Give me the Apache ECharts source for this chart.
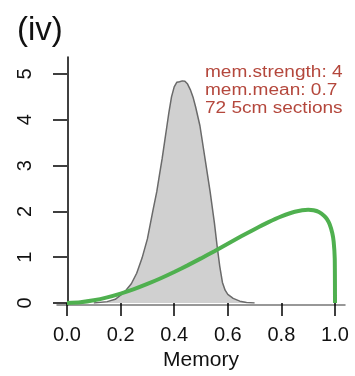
<!DOCTYPE html>
<html><head><meta charset="utf-8">
<script src="https://cdn.jsdelivr.net/npm/echarts@6/dist/echarts.min.js"></script>
<style>html,body{margin:0;padding:0;background:#fff}#c{width:355px;height:376px}</style>
</head><body><div id="c"></div>
<script>
// Gray empirical density: x positions and heights
const densX = [0.10,0.15,0.18,0.20,0.22,0.24,0.26,0.28,0.30,0.31,0.32,0.335,0.345,0.355,0.365,0.373,0.38,0.39,0.40,0.41,0.415,0.42,0.425,0.43,0.44,0.45,0.46,0.47,0.48,0.496,0.515,0.534,0.55,0.56,0.57,0.58,0.59,0.60,0.62,0.645,0.67,0.70];
const densY = [0.0,0.03,0.08,0.17,0.28,0.42,0.65,0.98,1.40,1.70,2.00,2.43,2.80,3.15,3.55,3.87,4.15,4.50,4.72,4.82,4.82,4.83,4.86,4.85,4.84,4.78,4.66,4.50,4.28,3.87,3.15,2.43,1.75,1.25,0.80,0.45,0.28,0.19,0.10,0.04,0.01,0.0];
// Green prior curve
const priorX = [0,0.05,0.10,0.15,0.20,0.25,0.30,0.35,0.40,0.45,0.50,0.55,0.60,0.65,0.70,0.75,0.80,0.85,0.90,0.92,0.94,0.96,0.97,0.98,0.99,0.995,0.999,1.0];
const priorY = [0,0.018,0.060,0.124,0.206,0.303,0.416,0.540,0.676,0.822,0.974,1.132,1.294,1.455,1.612,1.760,1.890,1.991,2.034,2.024,1.986,1.902,1.830,1.719,1.524,1.339,0.977,0];
const xTicks = [0,0.2,0.4,0.6,0.8,1.0];
const yTicks = [0,1,2,3,4,5];
const panelLabel = '(iv)';
const noteLines = ['mem.strength: 4','mem.mean: 0.7','72 5cm sections'];
const xName = 'Memory';

const FONT = 'Liberation Sans, Arial, Helvetica, sans-serif';
const chart = echarts.init(document.getElementById('c'), null, {renderer:'canvas'});
chart.setOption({
  animation:false,
  title:[{text:panelLabel,left:12,top:9,textStyle:{fontFamily:FONT,fontSize:33,fontWeight:'normal',color:'#111'}}],
  graphic:[{type:'text',x:205,y:63,scaleX:1.19,scaleY:1,style:{text:noteLines.join('\n'),fontFamily:FONT,fontSize:16,lineHeight:18.2,fill:'#b4473c'}}],
  grid:[
    {left:67,right:20,top:74,bottom:71,containLabel:false},
    {left:57,right:10,top:57,bottom:71,containLabel:false}
  ],
  xAxis:[
    {gridIndex:0,type:'value',min:0,max:1,interval:0.2,
     axisLine:{show:false},
     axisTick:{show:true,length:13,lineStyle:{color:'#000',width:1.5}},
     axisLabel:{margin:22,fontFamily:FONT,fontSize:20,color:'#111',formatter:v=>xTicks.includes(Math.round(v*10)/10)?v.toFixed(1):''},
     splitLine:{show:false},
     name:xName,nameLocation:'middle',nameGap:47,nameTextStyle:{fontFamily:FONT,fontSize:21,color:'#111'}},
    {gridIndex:1,type:'value',min:-0.04,max:1.04,
     axisLine:{show:true,lineStyle:{color:'#777',width:1.5}},
     axisTick:{show:false},axisLabel:{show:false},splitLine:{show:false}}
  ],
  yAxis:[
    {gridIndex:0,type:'value',min:0,max:5,interval:1,offset:10,
     axisLine:{show:false},
     axisTick:{show:true,length:14,lineStyle:{color:'#000',width:1.5}},
     axisLabel:{margin:22,rotate:90,fontFamily:FONT,fontSize:20,color:'#111',formatter:v=>yTicks.includes(v)?String(v):''},
     splitLine:{show:false}},
    {gridIndex:1,type:'value',min:0,max:5.39,
     axisLine:{show:true,lineStyle:{color:'#000',width:1.5}},
     axisTick:{show:false},axisLabel:{show:false},splitLine:{show:false}}
  ],
  series:[
    {type:'line',xAxisIndex:0,yAxisIndex:0,data:densX.map((x,i)=>[x,densY[i]]),
     showSymbol:false,symbol:'none',smooth:false,
     lineStyle:{color:'#6a6a6a',width:1.5},areaStyle:{color:'#d0d0d0',opacity:1},z:2},
    {type:'line',xAxisIndex:0,yAxisIndex:0,data:priorX.map((x,i)=>[x,priorY[i]]),
     showSymbol:false,symbol:'none',smooth:0.2,
     lineStyle:{color:'#4fb04f',width:4},z:3}
  ]
});
</script></body></html>
